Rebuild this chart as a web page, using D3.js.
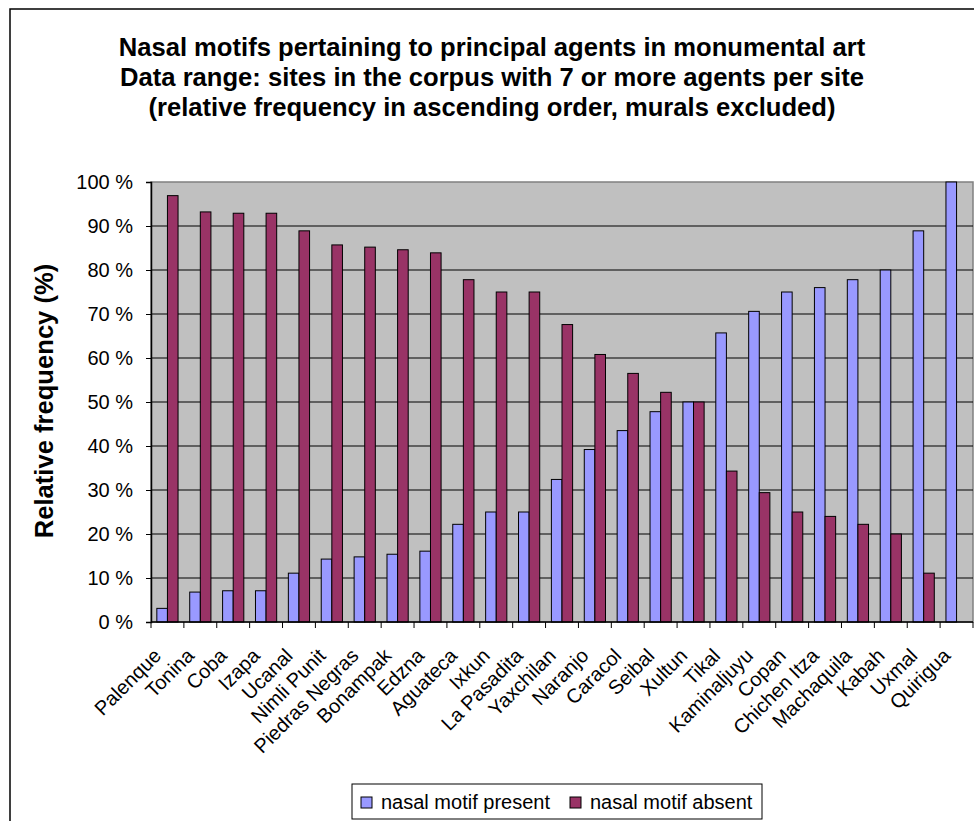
<!DOCTYPE html>
<html>
<head>
<meta charset="utf-8">
<script src="https://cdn.jsdelivr.net/npm/d3@7"></script>
<style>
  body { margin: 0; background: #fff; }
  text { font-family: Arial, "Liberation Sans", sans-serif; }
</style>
</head>
<body>
<div id="chart"></div>
<script>
// Sites, in the order shown on the chart
const sites = ["Palenque", "Tonina", "Coba", "Izapa", "Ucanal", "Nimli Punit", "Piedras Negras",
  "Bonampak", "Edzna", "Aguateca", "Ixkun", "La Pasadita", "Yaxchilan", "Naranjo", "Caracol",
  "Seibal", "Xultun", "Tikal", "Kaminaljuyu", "Copan", "Chichen Itza", "Machaquila", "Kabah",
  "Uxmal", "Quirigua"];

// Relative frequencies (%)
const present = [3.1, 6.8, 7.1, 7.1, 11.1, 14.3, 14.8, 15.4, 16.1, 22.2, 25, 25, 32.4, 39.2,
  43.5, 47.8, 50, 65.7, 70.6, 75, 76, 77.8, 80, 88.9, 100];
const absent = [96.9, 93.2, 92.9, 92.9, 88.9, 85.7, 85.2, 84.6, 83.9, 77.8, 75, 75, 67.6, 60.8,
  56.5, 52.2, 50, 34.3, 29.4, 25, 24, 22.2, 20, 11.1, 0];

const seriesNames = ["nasal motif present", "nasal motif absent"];
const seriesColors = ["#9999FF", "#993366"];
const yTicks = [0, 10, 20, 30, 40, 50, 60, 70, 80, 90, 100];

const titleLines = [
  "Nasal motifs pertaining to principal agents in monumental art",
  "Data range: sites in the corpus with 7 or more agents per site",
  "(relative frequency in ascending order, murals excluded)"
];

const width = 974, height = 821;
const plot = { left: 151, right: 973, top: 182, bottom: 622 };

const svg = d3.select("#chart").append("svg")
  .attr("width", width)
  .attr("height", height);

// outer chart border (right and bottom run off the picture)
svg.append("rect")
  .attr("x", 10).attr("y", 9)
  .attr("width", width + 20).attr("height", height + 20)
  .attr("fill", "white")
  .attr("stroke", "black")
  .attr("stroke-width", 1.5);

// title
svg.append("g").selectAll("text")
  .data(titleLines)
  .join("text")
  .attr("x", 492)
  .attr("y", (d, i) => 56 + i * 30)
  .attr("text-anchor", "middle")
  .style("font-size", "25.6px")
  .style("font-weight", "bold")
  .text(d => d);

const x = d3.scaleBand()
  .domain(sites)
  .range([plot.left, plot.right]);

const x1 = d3.scaleBand()
  .domain([0, 1])
  .range([0, x.bandwidth()])
  .paddingInner(0)
  .paddingOuter(0.55);

const y = d3.scaleLinear()
  .domain([0, 100])
  .range([plot.bottom, plot.top]);

// plot background
svg.append("rect")
  .attr("x", plot.left).attr("y", plot.top)
  .attr("width", plot.right - plot.left).attr("height", plot.bottom - plot.top)
  .attr("fill", "#C0C0C0")
  .attr("stroke", "#808080")
  .attr("stroke-width", 1.5);

// gridlines
svg.append("g").selectAll("line")
  .data(yTicks.filter(d => d > 0 && d < 100))
  .join("line")
  .attr("x1", plot.left).attr("x2", plot.right)
  .attr("y1", d => y(d)).attr("y2", d => y(d))
  .attr("stroke", "black")
  .attr("stroke-width", 1);

// bars
const groups = svg.append("g").selectAll("g")
  .data(sites)
  .join("g")
  .attr("transform", d => `translate(${x(d)},0)`);

groups.selectAll("rect")
  .data((d, i) => [present[i], absent[i]])
  .join("rect")
  .attr("x", (d, j) => x1(j))
  .attr("width", x1.bandwidth())
  .attr("y", d => y(d))
  .attr("height", d => y(0) - y(d))
  .attr("fill", (d, j) => seriesColors[j])
  .attr("stroke", "black")
  .attr("stroke-width", d => d > 0 ? 1 : 0);

// y axis
const yAxis = svg.append("g")
  .attr("transform", `translate(${plot.left},0)`)
  .call(d3.axisLeft(y).tickValues(yTicks).tickSize(5).tickPadding(13).tickFormat(d => d + " %"));
yAxis.select(".domain").attr("stroke", "black").attr("stroke-width", 1.5);
yAxis.selectAll("text").style("font-size", "20px").attr("fill", "black")
  .style("font-family", "Arial, 'Liberation Sans', sans-serif");

// x axis line and ticks between categories
svg.append("line")
  .attr("x1", plot.left).attr("x2", plot.right)
  .attr("y1", plot.bottom).attr("y2", plot.bottom)
  .attr("stroke", "black").attr("stroke-width", 1.5);

svg.append("g").selectAll("line")
  .data(d3.range(sites.length + 1))
  .join("line")
  .attr("x1", i => plot.left + i * x.step())
  .attr("x2", i => plot.left + i * x.step())
  .attr("y1", plot.bottom).attr("y2", plot.bottom + 6)
  .attr("stroke", "black");

// rotated category labels
svg.append("g").selectAll("text")
  .data(sites)
  .join("text")
  .attr("transform", d => `translate(${x(d) + x.bandwidth() / 2 - 5},${plot.bottom + 35}) rotate(-45)`)
  .attr("text-anchor", "end")
  .style("font-size", "20px")
  .text(d => d);

// y axis title
svg.append("text")
  .attr("transform", `translate(53,401) rotate(-90)`)
  .attr("text-anchor", "middle")
  .style("font-size", "25.6px")
  .style("font-weight", "bold")
  .text("Relative frequency (%)");

// legend
const legend = svg.append("g");
legend.append("rect")
  .attr("x", 352).attr("y", 784)
  .attr("width", 410).attr("height", 35)
  .attr("fill", "white")
  .attr("stroke", "black");

const legendX = [361, 570];
const items = legend.selectAll("g")
  .data(seriesNames)
  .join("g")
  .attr("transform", (d, i) => `translate(${legendX[i]},797)`);

items.append("rect")
  .attr("width", 11).attr("height", 11)
  .attr("fill", (d, i) => seriesColors[i])
  .attr("stroke", "black");

items.append("text")
  .attr("x", 20).attr("y", 12)
  .style("font-size", "20px")
  .text(d => d);
</script>
</body>
</html>
